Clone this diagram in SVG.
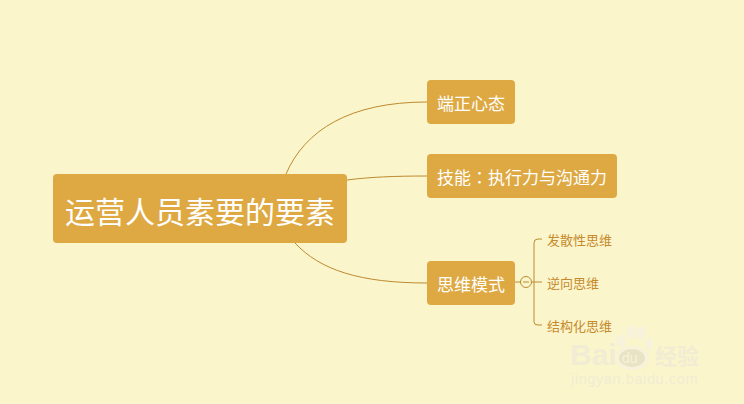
<svg xmlns="http://www.w3.org/2000/svg" width="744" height="404" viewBox="0 0 744 404">
<style>
.n{fill:#dea942}
.t{font-family:"Noto Sans CJK SC","Liberation Sans",sans-serif;fill:#fff;font-size:17px}
.c{font-family:"Noto Sans CJK SC","Liberation Sans",sans-serif;fill:#c58a2b;font-size:13px}
.l{fill:none;stroke:#bd8a30;stroke-width:1}
.w{font-family:"Liberation Sans",sans-serif;fill:#f1ecd3}
.p{fill:#f7f2d9}
</style>
<rect width="744" height="404" fill="#fbf5cc"/>
<g id="connectors">
<path class="l" d="M286 174C305 130 350 102 427 102"/>
<path class="l" d="M347 180C370 177 395 176 427 176"/>
<path class="l" d="M295 243C320 270 360 283 427 283"/>
<path class="l" d="M515 282H521"/>
<path class="l" d="M532 282H542"/>
<path class="l" d="M534 282V243Q534 239 538 239H542"/>
<path class="l" d="M534 282V322Q534 325 538 325H542"/>
</g>
<g id="root"><rect class="n" x="53" y="174" width="294" height="69" rx="4"/><text class="t" x="65" y="223" style="font-size:30px">运营人员素要的要素</text></g>
<g id="node1"><rect class="n" x="427" y="80" width="88" height="44" rx="4"/><text class="t" x="437" y="110">端正心态</text></g>
<g id="node2"><rect class="n" x="427" y="154" width="190" height="44" rx="4"/><text class="t" x="437" y="184">技能<tspan style="font-family:'Noto Sans CJK TC',sans-serif">：</tspan>执行力与沟通力</text></g>
<g id="node3"><rect class="n" x="427" y="261" width="88" height="44" rx="4"/><text class="t" x="437" y="291">思维模式</text></g>
<g id="toggle"><circle cx="526" cy="282" r="5.5" fill="#fbf5cc" stroke="#bd8a30"/><path class="l" d="M523 282H529"/></g>
<g id="child1"><text class="c" x="547" y="245">发散性思维</text></g>
<g id="child2"><text class="c" x="547" y="288">逆向思维</text></g>
<g id="child3"><text class="c" x="547" y="331">结构化思维</text></g>
<g id="watermark">
<text class="w" x="570" y="365" style="font-size:30px;font-weight:700">Bai</text>
<ellipse cx="632" cy="358" rx="17" ry="12" class="p"/>
<ellipse cx="632" cy="358" rx="13" ry="9" fill="#e9e3c6"/>
<ellipse cx="621" cy="341" rx="5" ry="7" class="p"/>
<ellipse cx="631" cy="332" rx="5" ry="7" class="p"/>
<ellipse cx="641" cy="333" rx="5" ry="7" class="p"/>
<ellipse cx="649" cy="344" rx="4" ry="6" class="p"/>
<text x="622" y="363" style="font-family:'Liberation Sans',sans-serif;font-size:14px;fill:#f7f2d9">du</text>
<text class="w" x="655" y="364" style="font-family:'Noto Sans CJK SC',sans-serif;font-size:22px;font-weight:700">经验</text>
<text class="w" x="571" y="384" style="font-size:14.5px;letter-spacing:.6px">jingyan.baidu.com</text>
</g>
</svg>
